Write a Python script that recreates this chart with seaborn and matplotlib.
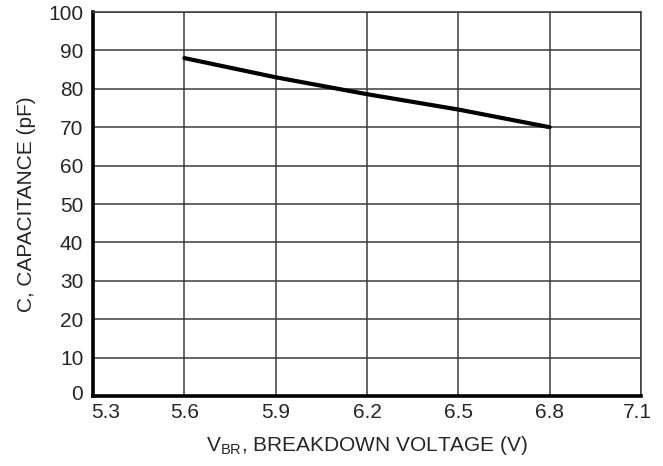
import numpy as np
import pandas as pd
import seaborn as sns
import matplotlib.pyplot as plt
import matplotlib.transforms as mtransforms

# breakdown voltage (V) vs capacitance (pF)
vbr = [5.6, 5.9, 6.2, 6.5, 6.8]
cap = [88.0, 83.0, 78.6, 74.6, 70.0]
xticks = [5.3, 5.6, 5.9, 6.2, 6.5, 6.8, 7.1]
yticks = list(range(0, 101, 10))

df = pd.DataFrame({'vbr': vbr, 'cap': cap})

sns.set_style('white')
plt.rcParams['font.family'] = ['Liberation Sans', 'DejaVu Sans']
plt.rcParams['mathtext.fontset'] = 'custom'
plt.rcParams['mathtext.rm'] = 'Liberation Sans'

fig = plt.figure(figsize=(6.63, 4.66), dpi=100)
ax = fig.add_axes([93/663, 1 - 396/466, 548/663, 384/466])

sns.lineplot(x='vbr', y='cap', data=df, ax=ax, color='black', linewidth=3)

ax.set_xlim(5.3, 7.1)
ax.set_ylim(0, 100)
ax.set_xticks(xticks)
ax.set_xticklabels([f'{t:.1f}' for t in xticks])
ax.set_yticks(yticks)
ax.grid(True, color='#3a3a3a', linewidth=1.1)
ax.tick_params(length=0, labelsize=15)
ax.tick_params(axis='x', pad=5)
ax.tick_params(axis='y', pad=7)

# nudge corner labels apart like the original
xl = ax.get_xticklabels()
xl[0].set_transform(xl[0].get_transform() + mtransforms.ScaledTranslation(13/100, 0, fig.dpi_scale_trans))
xl[-1].set_transform(xl[-1].get_transform() + mtransforms.ScaledTranslation(-4/100, 0, fig.dpi_scale_trans))
yl = ax.get_yticklabels()
yl[0].set_transform(yl[0].get_transform() + mtransforms.ScaledTranslation(0, 4/100, fig.dpi_scale_trans))

for s in ['left', 'bottom']:
    ax.spines[s].set_linewidth(2.6)
    ax.spines[s].set_color('black')
for s in ['top', 'right']:
    ax.spines[s].set_linewidth(1.1)
    ax.spines[s].set_color('#3a3a3a')

ax.set_xlabel(r'V$_{\mathregular{BR}}$, BREAKDOWN VOLTAGE (V)', fontsize=15, labelpad=9)
ax.set_ylabel('C, CAPACITANCE (pF)', fontsize=15, labelpad=9)

fig.savefig('out.png', dpi=100)
